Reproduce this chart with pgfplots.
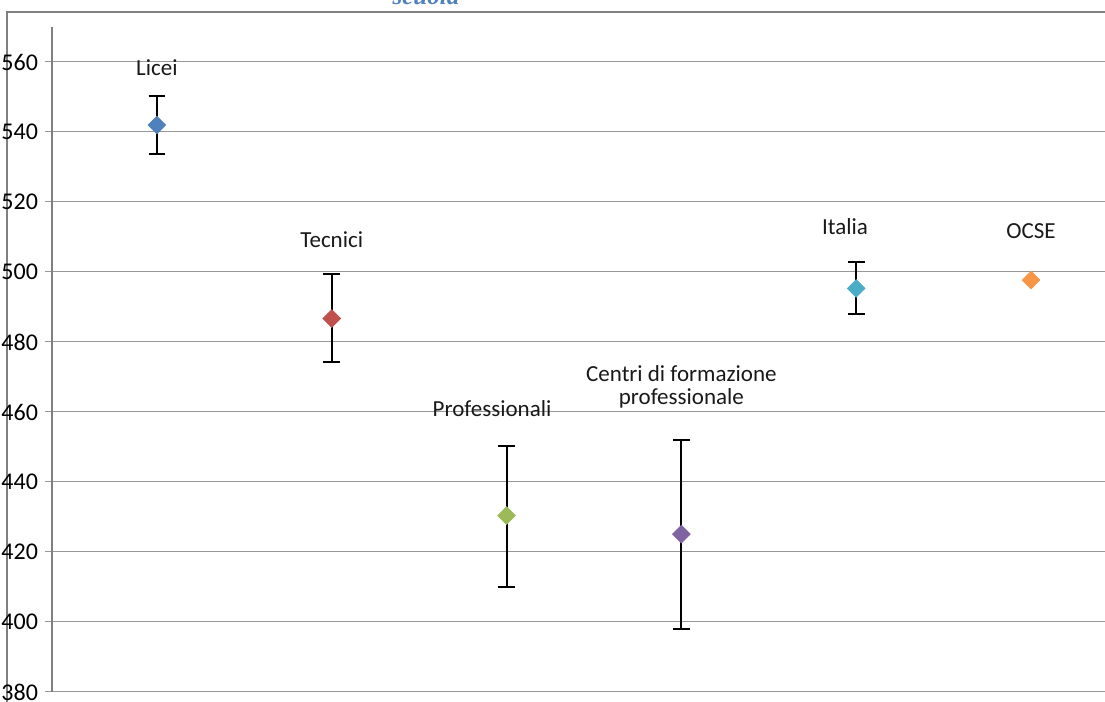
\documentclass[border=0pt]{standalone}
\usepackage{fontspec}
\setmainfont{Carlito}
\newfontfamily\titlefont{Liberation Serif}
\usepackage{pgfplots}
\pgfplotsset{compat=1.18}
\definecolor{cA}{HTML}{4F81BD}
\definecolor{cB}{HTML}{C0504D}
\definecolor{cC}{HTML}{9BBB59}
\definecolor{cD}{HTML}{8064A2}
\definecolor{cE}{HTML}{4BACC6}
\definecolor{cF}{HTML}{F79646}
\definecolor{gridc}{HTML}{989898}
\definecolor{framec}{HTML}{808080}
\begin{document}
\begin{tikzpicture}
\path[use as bounding box] (-26pt,-5pt) rectangle (526.5pt,346pt);
\draw[framec, line width=1pt] (-22.5pt,-5pt) -- (-22.5pt,340pt) -- (526.5pt,340pt);
\node[font=\titlefont\bfseries\itshape\fontsize{12.5}{14}\selectfont, text=cA, anchor=base, inner sep=0pt] at (187pt,343.5pt) {scuola};
\begin{axis}[
  at={(0pt,0pt)}, anchor=south west,
  scale only axis, width=526.5pt, height=332.5pt,
  xmin=0.4, xmax=6.423, ymin=380, ymax=570,
  xtick=\empty,
  ytick={380,400,...,560},
  axis x line=none, axis y line=left,
  axis line style={-, draw=framec, line width=0.6pt},
  ymajorgrids, major grid style={gridc, line width=0.5pt},
  tick align=outside, major tick length=3.5pt,
  tick style={gridc, line width=0.5pt},
  /pgf/number format/assume math mode=true,
  yticklabel style={font=\fontsize{12}{14}\selectfont, text=black},
  error bars/error bar style={black, line width=1pt},
  error bars/error mark options={black, line width=1pt, rotate=90, scale=1.35},
]
\addplot[only marks, mark=square*, mark size=3.1pt, mark options={rotate=45, fill=cA, draw=cA},
  error bars/.cd, y dir=both, y explicit] coordinates {(1,542) += (0,8.2) -= (0,8.4)};
\addplot[only marks, mark=square*, mark size=3.1pt, mark options={rotate=45, fill=cB, draw=cB},
  error bars/.cd, y dir=both, y explicit] coordinates {(2,486.7) += (0,12.8) -= (0,12.4)};
\addplot[only marks, mark=square*, mark size=3.1pt, mark options={rotate=45, fill=cC, draw=cC},
  error bars/.cd, y dir=both, y explicit] coordinates {(3,430.4) += (0,19.8) -= (0,20.3)};
\addplot[only marks, mark=square*, mark size=3.1pt, mark options={rotate=45, fill=cD, draw=cD},
  error bars/.cd, y dir=both, y explicit] coordinates {(4,425.1) += (0,27) -= (0,27)};
\addplot[only marks, mark=square*, mark size=3.1pt, mark options={rotate=45, fill=cE, draw=cE},
  error bars/.cd, y dir=both, y explicit] coordinates {(5,495.3) += (0,7.5) -= (0,7.4)};
\addplot[only marks, mark=square*, mark size=3.1pt, mark options={rotate=45, fill=cF, draw=cF},
  error bars/.cd, y dir=both, y explicit, error mark options={black, line width=1pt, rotate=90, scale=0.4}] coordinates {(6,497.7) +- (0,1)};
\begin{scope}[every node/.style={font=\fontsize{11.5}{11.5}\selectfont, text=black!90, align=center}]
\node at (axis cs:1,558.3) {Licei};
\node at (axis cs:2,509.1) {Tecnici};
\node at (axis cs:2.917,460.9) {Professionali};
\node at (axis cs:4.0,467.3) {Centri di formazione\\professionale};
\node at (axis cs:4.936,512.9) {Italia};
\node at (axis cs:6,511.7) {OCSE};
\end{scope}
\end{axis}
\end{tikzpicture}
\end{document}
